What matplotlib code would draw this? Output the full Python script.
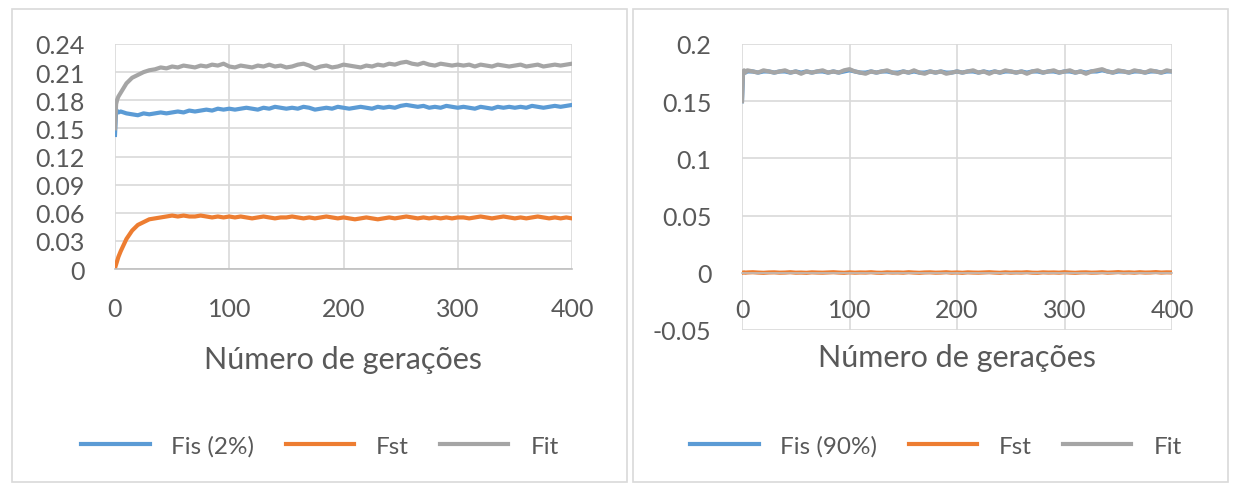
import numpy as np
import matplotlib.pyplot as plt
from matplotlib.patches import Rectangle

plt.rcParams['font.family'] = ['Lato', 'DejaVu Sans']

# geracoes: primeiras explicitas, depois de 5 em 5
geracoes = np.concatenate([[0, 1, 2, 3], np.arange(5, 401, 5)])

# ---- painel esquerdo (2%) ----
fit_2 = [0.150, 0.176, 0.181, 0.184,
         0.188, 0.198, 0.204, 0.207, 0.210, 0.212, 0.213, 0.215, 0.214, 0.216,
         0.215, 0.217, 0.216, 0.215, 0.217, 0.216, 0.218, 0.217, 0.219, 0.216,
         0.215, 0.217, 0.216, 0.215, 0.217, 0.216, 0.218, 0.216, 0.217, 0.215,
         0.216, 0.218, 0.219, 0.217, 0.214, 0.216, 0.217, 0.215, 0.216, 0.218,
         0.217, 0.216, 0.215, 0.217, 0.216, 0.218, 0.217, 0.219, 0.218, 0.220,
         0.221, 0.219, 0.218, 0.220, 0.218, 0.217, 0.219, 0.218, 0.217, 0.218,
         0.217, 0.218, 0.216, 0.218, 0.217, 0.216, 0.218, 0.217, 0.216, 0.217,
         0.218, 0.216, 0.217, 0.218, 0.216, 0.217, 0.218, 0.217, 0.218, 0.219]
fis_2 = [0.143, 0.170, 0.168, 0.167,
         0.168, 0.166, 0.165, 0.164, 0.166, 0.165, 0.166, 0.167, 0.166, 0.167,
         0.168, 0.167, 0.169, 0.168, 0.169, 0.170, 0.169, 0.171, 0.170, 0.171,
         0.170, 0.171, 0.172, 0.171, 0.170, 0.172, 0.171, 0.173, 0.172, 0.171,
         0.172, 0.171, 0.173, 0.172, 0.170, 0.171, 0.172, 0.171, 0.173, 0.172,
         0.171, 0.172, 0.173, 0.172, 0.171, 0.173, 0.172, 0.173, 0.172, 0.174,
         0.175, 0.174, 0.173, 0.174, 0.172, 0.173, 0.172, 0.174, 0.173, 0.172,
         0.173, 0.172, 0.171, 0.173, 0.172, 0.171, 0.173, 0.172, 0.173, 0.172,
         0.173, 0.172, 0.174, 0.173, 0.172, 0.173, 0.174, 0.173, 0.174, 0.175]
fst_2 = [0.001, 0.005, 0.009, 0.013,
         0.019, 0.032, 0.041, 0.047, 0.050, 0.053, 0.054, 0.055, 0.056, 0.057,
         0.056, 0.057, 0.056, 0.056, 0.057, 0.056, 0.055, 0.056, 0.055, 0.056,
         0.055, 0.056, 0.055, 0.054, 0.055, 0.056, 0.055, 0.054, 0.055, 0.055,
         0.056, 0.055, 0.054, 0.055, 0.054, 0.055, 0.056, 0.055, 0.054, 0.055,
         0.054, 0.053, 0.054, 0.055, 0.054, 0.053, 0.054, 0.055, 0.054, 0.055,
         0.056, 0.055, 0.054, 0.055, 0.054, 0.055, 0.054, 0.055, 0.054, 0.055,
         0.055, 0.054, 0.055, 0.056, 0.055, 0.054, 0.055, 0.056, 0.055, 0.054,
         0.055, 0.054, 0.055, 0.056, 0.055, 0.054, 0.055, 0.054, 0.055, 0.054]

# ---- painel direito (90%) ----
fit_90 = [0.150, 0.176, 0.177, 0.175,
          0.177, 0.176, 0.175, 0.177, 0.176, 0.175, 0.176, 0.177, 0.175, 0.176,
          0.174, 0.176, 0.175, 0.176, 0.177, 0.175, 0.176, 0.175, 0.177, 0.178,
          0.176, 0.175, 0.174, 0.176, 0.175, 0.176, 0.177, 0.175, 0.174, 0.176,
          0.175, 0.177, 0.175, 0.174, 0.176, 0.175, 0.176, 0.174, 0.175, 0.176,
          0.175, 0.176, 0.177, 0.175, 0.176, 0.174, 0.176, 0.175, 0.177, 0.176,
          0.175, 0.176, 0.174, 0.176, 0.177, 0.175, 0.176, 0.177, 0.175, 0.176,
          0.177, 0.175, 0.176, 0.174, 0.176, 0.177, 0.178, 0.176, 0.175, 0.177,
          0.176, 0.175, 0.177, 0.176, 0.175, 0.177, 0.176, 0.175, 0.177, 0.176]
fis_90 = [0.150, 0.175, 0.176, 0.175,
          0.176, 0.176, 0.175, 0.176, 0.176, 0.175, 0.176, 0.176, 0.175, 0.176,
          0.175, 0.176, 0.175, 0.176, 0.176, 0.175, 0.176, 0.175, 0.176, 0.177,
          0.176, 0.175, 0.175, 0.176, 0.175, 0.176, 0.176, 0.175, 0.175, 0.176,
          0.175, 0.176, 0.175, 0.175, 0.176, 0.175, 0.176, 0.175, 0.175, 0.176,
          0.175, 0.176, 0.176, 0.175, 0.176, 0.175, 0.176, 0.175, 0.176, 0.176,
          0.175, 0.176, 0.175, 0.176, 0.176, 0.175, 0.176, 0.176, 0.175, 0.176,
          0.176, 0.175, 0.176, 0.175, 0.176, 0.176, 0.177, 0.176, 0.175, 0.176,
          0.176, 0.175, 0.176, 0.176, 0.175, 0.176, 0.176, 0.175, 0.176, 0.176]
fst_90 = [0.0000, 0.0002, 0.0004, 0.0001,
          0.0003, 0.0005, 0.0002, 0.0000, 0.0003, 0.0004, 0.0001, 0.0002, 0.0005, 0.0001,
          0.0002, 0.0000, 0.0004, 0.0002, 0.0001, 0.0003, 0.0005, 0.0002, 0.0000, 0.0004,
          0.0001, 0.0003, 0.0002, 0.0005, 0.0001, 0.0000, 0.0004, 0.0002, 0.0003, 0.0001,
          0.0005, 0.0002, 0.0000, 0.0003, 0.0004, 0.0001, 0.0002, 0.0005, 0.0001, 0.0003,
          0.0000, 0.0004, 0.0002, 0.0001, 0.0003, 0.0005, 0.0002, 0.0000, 0.0004, 0.0001,
          0.0003, 0.0002, 0.0005, 0.0001, 0.0000, 0.0004, 0.0002, 0.0003, 0.0001, 0.0005,
          0.0002, 0.0000, 0.0003, 0.0004, 0.0001, 0.0002, 0.0005, 0.0001, 0.0003, 0.0006,
          0.0002, 0.0004, 0.0001, 0.0005, 0.0002, 0.0003, 0.0006, 0.0002, 0.0004, 0.0003]

yticks_esq = np.arange(0, 0.241, 0.03)
ylabels_esq = ['0', '0.03', '0.06', '0.09', '0.12', '0.15', '0.18', '0.21', '0.24']
yticks_dir = [-0.05, 0, 0.05, 0.1, 0.15, 0.2]
ylabels_dir = ['-0.05', '0', '0.05', '0.1', '0.15', '0.2']

AZUL, LARANJA, CINZA = '#5B9BD5', '#ED7D31', '#A5A5A5'
TEXTO, GRADE = '#595959', '#D9D9D9'
W, H = 1234, 489
LW = 3.0

fig = plt.figure(figsize=(W / 100, H / 100), dpi=100)

# moldura de cada grafico
for x0, x1 in [(12, 627), (633, 1228)]:
    fig.patches.append(Rectangle((x0 / W, 1 - 483 / H), (x1 - x0) / W, (483 - 10) / H,
                                 transform=fig.transFigure, fill=False,
                                 edgecolor=GRADE, linewidth=1.2))


def estilo(ax, yticks, ylabels, ylim):
    ax.set_xlim(0, 400)
    ax.set_ylim(*ylim)
    ax.set_xticks([0, 100, 200, 300, 400])
    ax.set_yticks(yticks)
    ax.set_yticklabels(ylabels)
    ax.grid(True, color=GRADE, linewidth=1.2)
    ax.set_axisbelow(True)
    for s in ['top', 'right', 'left']:
        ax.spines[s].set_visible(False)
    ax.spines['bottom'].set_color('#BFBFBF')
    ax.spines['bottom'].set_linewidth(1.2)
    ax.tick_params(length=0, labelsize=18, colors=TEXTO)
    ax.tick_params(axis='x', pad=20)
    ax.tick_params(axis='y', pad=22)
    ax.set_xlabel('Número de gerações', fontsize=22, color=TEXTO, labelpad=18)


def legenda(ax, cx):
    fig.legend(*ax.get_legend_handles_labels(), loc='center', bbox_to_anchor=(cx / W, 1 - 447 / H),
               ncol=3, frameon=False, fontsize=17.5, handlelength=2.8, handletextpad=0.9,
               columnspacing=1.3, labelcolor=TEXTO)


ax1 = fig.add_axes([115 / W, 1 - 270 / H, 457 / W, 225 / H])
ax1.plot(geracoes, fis_2, color=AZUL, lw=LW, label='Fis (2%)')
ax1.plot(geracoes, fst_2, color=LARANJA, lw=LW, label='Fst')
ax1.plot(geracoes, fit_2, color=CINZA, lw=LW, label='Fit')
estilo(ax1, yticks_esq, ylabels_esq, (0, 0.24))
legenda(ax1, 320)

ax2 = fig.add_axes([742 / W, 1 - 331 / H, 430 / W, 286 / H])
ax2.plot(geracoes, fis_90, color=AZUL, lw=LW, label='Fis (90%)')
ax2.plot(geracoes, fst_90, color=LARANJA, lw=LW, label='Fst')
ax2.plot(geracoes, fit_90, color=CINZA, lw=LW, label='Fit')
estilo(ax2, yticks_dir, ylabels_dir, (-0.05, 0.2))
ax2.spines['bottom'].set_position(('data', 0))
ax2.tick_params(axis='x', pad=18)
ax2.xaxis.labelpad = 16
legenda(ax2, 936)

fig.savefig('out.png', dpi=100, facecolor='white')
